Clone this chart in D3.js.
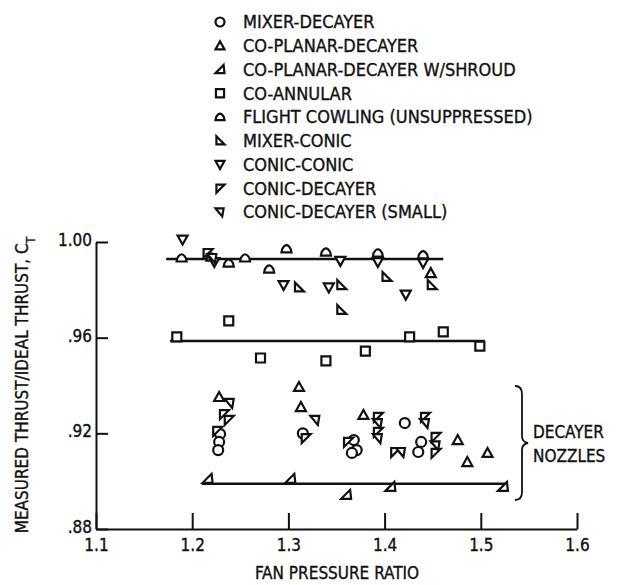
<!DOCTYPE html>
<html>
<head>
<meta charset="utf-8">
<script src="https://cdn.jsdelivr.net/npm/d3@7"></script>
<style>
body { margin:0; background:#fff; }
text { font-family: "Liberation Sans Narrow", "DejaVu Sans Condensed", sans-serif; fill:#111; stroke:#111; stroke-width:0.35px; }
</style>
</head>
<body>
<svg id="chart" width="622" height="585"></svg>
<script>
// each series: [fan pressure ratio, C_T]
let mixer_decayer = [[1.229,0.9197],[1.228,0.9164],[1.227,0.913],[1.315,0.920],[1.368,0.9172],[1.371,0.913],[1.366,0.9118],[1.421,0.9243],[1.438,0.9164],[1.435,0.9122]];
let coplanar_decayer = [[1.228,0.9352],[1.311,0.9394],[1.313,0.931],[1.378,0.9277],[1.476,0.9172],[1.507,0.9118],[1.486,0.908],[1.448,0.987]];
let coplanar_shroud = [[1.216,0.901],[1.302,0.901],[1.360,0.8943],[1.406,0.8976],[1.523,0.8976]];
let co_annular = [[1.184,0.9603],[1.238,0.967],[1.271,0.9515],[1.339,0.9503],[1.380,0.9544],[1.426,0.9603],[1.461,0.9624],[1.499,0.9565]];
let flight_cowling = [[1.189,0.9933],[1.220,0.9937],[1.238,0.9912],[1.255,0.9933],[1.280,0.9887],[1.298,0.9971],[1.339,0.9958],[1.393,0.9954],[1.440,0.9946]];
let mixer_conic = [[1.311,0.981],[1.355,0.982],[1.355,0.9716],[1.402,0.9854],[1.449,0.982]];
let conic_conic = [[1.190,1.001],[1.223,0.9916],[1.354,0.9921],[1.393,0.9916],[1.440,0.9912],[1.295,0.982],[1.342,0.981],[1.422,0.978]];
let conic_decayer = [[1.216,0.9954],[1.233,0.928],[1.238,0.9256],[1.226,0.921],[1.318,0.918],[1.362,0.9164],[1.393,0.9269],[1.393,0.9206],[1.411,0.9122],[1.442,0.9269],[1.453,0.9185],[1.453,0.9118]];
let conic_decayer_small = [[1.239,0.9327],[1.328,0.9256],[1.393,0.9243],[1.393,0.918],[1.417,0.9122],[1.442,0.9243],[1.453,0.915],[1.221,0.9933]];

let series_names = ["MIXER-DECAYER","CO-PLANAR-DECAYER","CO-PLANAR-DECAYER W/SHROUD","CO-ANNULAR",
    "FLIGHT COWLING (UNSUPPRESSED)","MIXER-CONIC","CONIC-CONIC","CONIC-DECAYER","CONIC-DECAYER (SMALL)"];
let series_data = [mixer_decayer, coplanar_decayer, coplanar_shroud, co_annular, flight_cowling,
    mixer_conic, conic_conic, conic_decayer, conic_decayer_small];

// faired lines: [x start, x end, C_T]
let fair_lines = [[1.173,1.461,0.9929],[1.177,1.504,0.9586],[1.21,1.527,0.8989]];

let x_ticks = [1.1,1.2,1.3,1.4,1.5,1.6];
let y_ticks = [0.88,0.92,0.96,1.00];

let svg = d3.select("#chart");
let x = d3.scaleLinear().domain([1.1,1.6]).range([96,577]);
let y = d3.scaleLinear().domain([0.88,1.00]).range([529,242]);

function shape(i, s) {
    switch (i) {
        case 0: return "M" + (-s) + ",0A" + s + "," + s + " 0 1 1 " + s + ",0A" + s + "," + s + " 0 1 1 " + (-s) + ",0Z";
        case 1: return "M0," + (-s) + "L" + s + "," + (s*0.8) + "L" + (-s) + "," + (s*0.8) + "Z";
        case 2: return "M" + (-s) + "," + (s*0.8) + "L" + s + "," + (s*0.8) + "L" + (s*0.8) + "," + (-s) + "Z";
        case 3: return "M" + (-s*0.9) + "," + (-s*0.9) + "H" + (s*0.9) + "V" + (s*0.9) + "H" + (-s*0.9) + "Z";
        case 4: return "M" + (-s) + "," + (s*0.7) + "L" + (-s*0.85) + ",0Q0," + (-s*1.5) + " " + (s*0.85) + ",0L" + s + "," + (s*0.7) + "Z";
        case 5: return "M" + (-s*0.8) + "," + (-s) + "L" + s + "," + (s*0.8) + "L" + (-s*0.8) + "," + (s*0.8) + "Z";
        case 6: return "M" + (-s) + "," + (-s*0.8) + "L" + s + "," + (-s*0.8) + "L0," + s + "Z";
        case 7: return "M" + (-s*0.8) + "," + (-s*0.8) + "L" + s + "," + (-s*0.8) + "L" + (-s*0.8) + "," + s + "Z";
        default: return "M" + (-s) + "," + (-s*0.8) + "L" + (s*0.8) + "," + (-s*0.8) + "L" + (s*0.5) + "," + s + "Z";
    }
}

// axes
svg.append("g")
    .attr("transform", "translate(0,529)")
    .call(d3.axisBottom(x).tickValues(x_ticks).tickSizeInner(-16).tickSizeOuter(0).tickPadding(10)
        .tickFormat(d3.format(".1f")))
    .call(g => g.selectAll("line,path").attr("stroke", "#111").attr("stroke-width", 2))
    .call(g => g.selectAll("text").attr("font-size", 17).attr("font-family", null));

svg.append("g")
    .attr("transform", "translate(96,0)")
    .call(d3.axisLeft(y).tickValues(y_ticks).tickSizeInner(-12).tickSizeOuter(0).tickPadding(4)
        .tickFormat(d => d === 1 ? "1.00" : d3.format(".2f")(d).replace(/^0/, "")))
    .call(g => g.selectAll("line,path").attr("stroke", "#111").attr("stroke-width", 2))
    .call(g => g.selectAll("text").attr("font-size", 17).attr("font-family", null).attr("dy", "0.2em"));

// faired lines
svg.append("g").selectAll("line").data(fair_lines).join("line")
    .attr("x1", d => x(d[0]))
    .attr("x2", d => x(d[1]))
    .attr("y1", d => y(d[2]))
    .attr("y2", d => y(d[2]))
    .attr("stroke", "#111")
    .attr("stroke-width", 2.4);

// points
series_data.forEach((pts, i) => {
    svg.append("g").selectAll("path").data(pts).join("path")
        .attr("transform", d => "translate(" + x(d[0]) + "," + y(d[1]) + ")")
        .attr("d", shape(i, 5))
        .attr("fill", "#fff")
        .attr("stroke", "#111")
        .attr("stroke-width", 2.2);
});

// legend
let legend = svg.append("g").selectAll("g").data(series_names).join("g")
    .attr("transform", (d,i) => "translate(220," + (22 + i*23.75) + ")");
legend.append("path")
    .attr("d", (d,i) => shape(i, 4.5))
    .attr("fill", "#fff")
    .attr("stroke", "#111")
    .attr("stroke-width", 2.2);
legend.append("text")
    .attr("x", 23)
    .attr("dy", "0.36em")
    .attr("font-size", 18)
    .text(d => d);

// decayer bracket
svg.append("path")
    .attr("d", "M515,386Q522,386 522,394V436Q522,442 528,443Q522,444 522,450V492Q522,500 515,500")
    .attr("fill", "none")
    .attr("stroke", "#111")
    .attr("stroke-width", 1.8);
svg.append("text").attr("x", 533).attr("y", 438).attr("font-size", 17).text("DECAYER");
svg.append("text").attr("x", 533).attr("y", 462).attr("font-size", 17).text("NOZZLES");

// axis titles
svg.append("text")
    .attr("x", 337)
    .attr("y", 579)
    .attr("text-anchor", "middle")
    .attr("font-size", 17)
    .text("FAN PRESSURE RATIO");

let ylab = svg.append("text")
    .attr("transform", "translate(28,385) rotate(-90)")
    .attr("text-anchor", "middle")
    .attr("font-size", 17);
ylab.append("tspan").text("MEASURED THRUST/IDEAL THRUST, C");
ylab.append("tspan").attr("baseline-shift", "sub").attr("font-size", 12).text("T");
</script>
</body>
</html>
